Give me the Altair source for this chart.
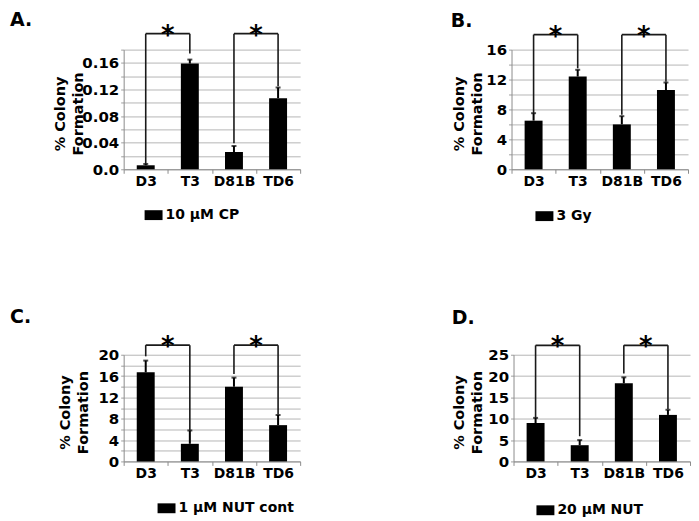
import altair as alt
import pandas as pd

FONT = "DejaVu Sans"

categories = ["D3", "T3", "D81B", "TD6"]

# Panel A: 10 uM CP
a_mean = [0.006, 0.159, 0.026, 0.107]
a_sem = [0.002, 0.006, 0.009, 0.016]
a_leg = [0.0075, 0.174, 0.039, 0.125]
a_bracket = 0.204
a_ticks = [0, 0.02, 0.04, 0.06, 0.08, 0.10, 0.12, 0.14, 0.16, 0.18]
a_label_vals = [0, 0.04, 0.08, 0.12, 0.16]
a_label_txt = ["0.0", "0.04", "0.08", "0.12", "0.16"]

# Panel B: 3 Gy
b_mean = [6.5, 12.4, 6.0, 10.6]
b_sem = [1.0, 0.9, 1.1, 1.0]
b_leg = [7.5, 13.5, 7.3, 11.7]
b_bracket = 18.0
b_ticks = [0, 2, 4, 6, 8, 10, 12, 14, 16]
b_label_vals = [0, 4, 8, 12, 16]
b_label_txt = ["0", "4", "8", "12", "16"]

# Panel C: 1 uM NUT cont
c_mean = [16.7, 3.3, 14.0, 6.8]
c_sem = [2.2, 2.5, 1.7, 1.9]
c_leg = [19.7, 5.8, 16.4, 8.8]
c_bracket = 21.8
c_ticks = [0, 2, 4, 6, 8, 10, 12, 14, 16, 18, 20]
c_label_vals = [0, 4, 8, 12, 16, 20]
c_label_txt = ["0", "4", "8", "12", "16", "20"]

# Panel D: 20 uM NUT
d_mean = [9.0, 3.8, 18.3, 10.9]
d_sem = [1.2, 1.2, 1.4, 1.2]
d_leg = [10.2, 5.9, 20.6, 12.3]
d_bracket = 27.2
d_ticks = [0, 5, 10, 15, 20, 25]
d_label_vals = [0, 5, 10, 15, 20, 25]
d_label_txt = ["0", "5", "10", "15", "20", "25"]

pairs = [("D3", "T3"), ("D81B", "TD6")]


def label_expr(vals, txts):
    items = ", ".join("'%s': '%s'" % (repr(v), t) for v, t in zip(vals, txts))
    return "({%s})[datum.value] || ''" % items


def panel(letter, legend_label, mean, sem, leg, bracket, ticks, lvals, ltxt,
          height, title_x, legend_x, legend_y, t_dx, t_dy):
    bars = pd.DataFrame({
        "cat": categories,
        "mean": mean,
        "upper": [m + s for m, s in zip(mean, sem)],
        "series": [legend_label] * 4,
    })
    legs = pd.DataFrame({"cat": categories, "bottom": leg, "top": [bracket] * 4})
    horiz = pd.DataFrame({
        "left": [p[0] for p in pairs],
        "right": [p[1] for p in pairs],
        "y": [bracket] * 2,
        "star": ["*"] * 2,
    })
    ymax = ticks[-1]
    xscale = alt.Scale(domain=categories, paddingInner=0, paddingOuter=0)
    yscale = alt.Scale(domain=[0, ymax], nice=False)
    x_axis = alt.Axis(title=None, labelAngle=0, tickBand="extent", tickSize=4,
                      tickColor="#8c8c8c", domainColor="#8c8c8c", labelFontSize=14,
                      labelFont=FONT, labelFontWeight="bold", labelColor="black",
                      labelPadding=1, grid=False)
    y_axis = alt.Axis(title=["% Colony", "Formation"], values=ticks,
                      tickCount=len(ticks) + 1,
                      labelExpr=label_expr(lvals, ltxt), labelOverlap=False,
                      labelFontSize=15, labelFont=FONT, labelFontWeight="bold",
                      labelColor="black", labelPadding=2, tickSize=3,
                      tickColor="#a0a0a0", domainColor="#8c8c8c",
                      gridColor="#b6b6b6", gridWidth=1,
                      titleFont=FONT, titleFontSize=14.5, titleFontWeight="bold",
                      titleColor="black", titleLineHeight=18, titleX=title_x,
                      titleY=height / 2 + 4, titleAngle=-90, titleAlign="center",
                      titleBaseline="bottom")
    base_bar = alt.Chart(bars).mark_bar(width=18).encode(
        x=alt.X("cat:N", scale=xscale, axis=x_axis, sort=categories),
        y=alt.Y("mean:Q", scale=yscale, axis=y_axis),
        color=alt.Color("series:N", scale=alt.Scale(range=["black"]),
                        legend=alt.Legend(title=None, orient="none", legendX=legend_x,
                                          legendY=legend_y, symbolType="M-1,-0.55H1V0.55H-1Z",
                                          symbolSize=324, symbolStrokeWidth=0,
                                          labelFont=FONT, labelFontSize=14,
                                          labelFontWeight="bold", labelColor="black",
                                          labelOffset=3, padding=0)),
    )
    err = alt.Chart(bars).mark_rule(color="black", strokeWidth=2).encode(
        x=alt.X("cat:N", sort=categories), y="mean:Q", y2="upper:Q")
    cap = alt.Chart(bars).mark_tick(color="black", thickness=2, size=5).encode(
        x=alt.X("cat:N", sort=categories), y="upper:Q")
    leg_rules = alt.Chart(legs).mark_rule(color="#1a1a1a", strokeWidth=1.6).encode(
        x=alt.X("cat:N", sort=categories), y="bottom:Q", y2="top:Q")
    h_rules = alt.Chart(horiz).mark_rule(color="#1a1a1a", strokeWidth=1.6).encode(
        x=alt.X("left:N", sort=categories), x2="right:N", y="y:Q")
    stars = alt.Chart(horiz).mark_text(font=FONT, fontSize=26, fontWeight="bold",
                                       baseline="middle", dy=2, color="black").encode(
        x=alt.X("right:N", sort=categories, bandPosition=0), y="y:Q", text="star:N")
    layer = alt.layer(base_bar, err, cap, leg_rules, h_rules, stars).properties(
        width=177, height=height,
        title=alt.TitleParams(letter, anchor="start", frame="group", dx=t_dx,
                              dy=t_dy, fontSize=19, font=FONT, fontWeight="bold",
                              color="black", offset=0),
    )
    return layer


pA = panel("A.", "10 µM CP", a_mean, a_sem, a_leg, a_bracket, a_ticks,
           a_label_vals, a_label_txt, 120, -56, 21, 157, -114, 7)
pB = panel("B.", "3 Gy", b_mean, b_sem, b_leg, b_bracket, b_ticks,
           b_label_vals, b_label_txt, 120, -45, 24, 158, -61, 7)
pC = panel("C.", "1 µM NUT cont", c_mean, c_sem, c_leg, c_bracket, c_ticks,
           c_label_vals, c_label_txt, 107, -51, 34, 145, -114, -7)
pD = panel("D.", "20 µM NUT", d_mean, d_sem, d_leg, d_bracket, d_ticks,
           d_label_vals, d_label_txt, 107, -47, 23, 147, -62, -6)

row1 = alt.hconcat(pA, pB, spacing=212, bounds="flush").resolve_scale(
    color="independent", x="independent", y="independent").resolve_legend(color="independent")
row2 = alt.hconcat(pC, pD, spacing=214, bounds="flush").resolve_scale(
    color="independent", x="independent", y="independent").resolve_legend(color="independent")
chart = alt.vconcat(row1, row2, spacing=306, bounds="flush").resolve_scale(
    color="independent", x="independent", y="independent").resolve_legend(
    color="independent").properties(
    padding={"left": 2, "top": 2, "right": 0, "bottom": 0}, background="white"
).configure_view(stroke=None)

chart.save("out.html", embed_options={"renderer": "svg", "actions": False})
